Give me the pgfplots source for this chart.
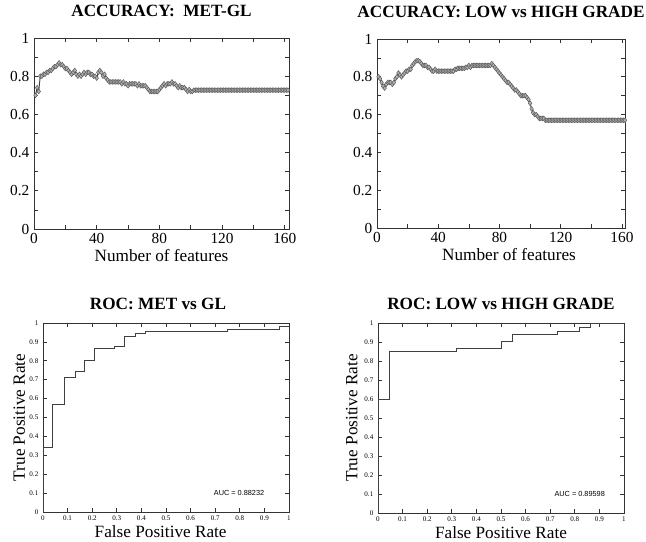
\documentclass[border=0pt]{standalone}
\usepackage{fontspec}
\setmainfont{Liberation Serif}
\newfontfamily\aucfont{Liberation Sans}
\usepackage{pgfplots}
\pgfplotsset{compat=1.18}

\pgfplotsset{
  matbox/.style={
    scale only axis, anchor=south west,
    axis line style={black!80, line width=0.6pt},
    tick align=inside, tick style={black!80, line width=0.5pt},
    major tick length=3pt, minor tick length=3pt,
    /pgf/number format/assume math mode=true,
    /pgf/number format/fixed,
    title style={at={(0.5,1)}, anchor=base, yshift=9.75pt,
      font=\fontsize{12.9}{14}\selectfont\bfseries},
    label style={font=\fontsize{12.9}{14}\selectfont},
    xlabel style={at={(0.5,0)}, anchor=base, yshift=-24.5pt},
  },
  acc/.style={matbox,
    xmin=0, ymin=0, ymax=1,
    xtick={0,40,80,120,160}, minor xtick={20,60,100,140},
    ytick={0,0.2,0.4,0.6,0.8,1}, minor ytick={0.1,0.3,0.5,0.7,0.9},
    tick label style={font=\fontsize{11.5}{12}\selectfont},
    xlabel={Number of features},
  },
  roc/.style={matbox,
    xmin=0, xmax=1, ymin=0, ymax=1,
    xtick={0,0.1,0.2,0.3,0.4,0.5,0.6,0.7,0.8,0.9,1},
    ytick={0,0.1,0.2,0.3,0.4,0.5,0.6,0.7,0.8,0.9,1},
    tick label style={font=\fontsize{5.3}{6}\selectfont},
    xticklabel style={yshift=1pt},
    title style={yshift=-5.75pt},
    xlabel style={yshift=5pt},
    ylabel style={at={(0,0.5)}, anchor=base, yshift=13.5pt},
    xlabel={False Positive Rate}, ylabel={True Positive Rate},
  },
  accline/.style={black!75, line width=0.7pt, mark=diamond*,
    mark size=1.8pt, mark options={fill=gray!60, draw=black!65, line width=0.35pt}},
  rocline/.style={black!75, line width=0.7pt},
}

\begin{document}
\begin{tikzpicture}
\useasboundingbox (0,0) rectangle (484.5pt,406.5pt);

% accuracy MET-GL
\begin{axis}[acc, at={(25.5pt,234.75pt)}, width=191.25pt, height=143.25pt,
  xmax=162.7, title={ACCURACY:\ \ MET-GL}]
\addplot[accline] coordinates {
(1,0.70)(2,0.74)(3,0.72)(4,0.80)(5,0.80)(6,0.81)(7,0.81)(8,0.82)(9,0.82)(10,0.83)
(11,0.83)(12,0.84)(13,0.85)(14,0.85)(15,0.86)(16,0.87)(17,0.86)(18,0.86)(19,0.85)(20,0.84)
(21,0.84)(22,0.83)(23,0.82)(24,0.81)(25,0.82)(26,0.83)(27,0.81)(28,0.80)(29,0.81)(30,0.80)
(31,0.81)(32,0.82)(33,0.81)(34,0.82)(35,0.82)(36,0.81)(37,0.81)(38,0.80)(39,0.80)(40,0.79)
(41,0.82)(42,0.83)(43,0.82)(44,0.80)(45,0.81)(46,0.79)(47,0.78)(48,0.77)(49,0.77)(50,0.77)
(51,0.77)(52,0.77)(53,0.77)(54,0.77)(55,0.77)(56,0.76)(57,0.77)(58,0.76)(59,0.76)(60,0.75)
(61,0.76)(62,0.76)(63,0.76)(64,0.76)(65,0.76)(66,0.75)(67,0.76)(68,0.75)(69,0.75)(70,0.75)
(71,0.75)(72,0.74)(73,0.73)(74,0.72)(75,0.72)(76,0.72)(77,0.72)(78,0.72)(79,0.72)(80,0.73)
(81,0.74)(82,0.75)(83,0.76)(84,0.75)(85,0.76)(86,0.76)(87,0.76)(88,0.77)(89,0.76)(90,0.76)
(91,0.75)(92,0.74)(93,0.75)(94,0.74)(95,0.74)(96,0.74)(97,0.73)(98,0.72)(99,0.73)(100,0.72)
(101,0.72)(102,0.727)(103,0.727)(104,0.727)(105,0.727)(106,0.727)(107,0.727)(108,0.727)(109,0.727)(110,0.727)
(111,0.727)(112,0.727)(113,0.727)(114,0.727)(115,0.727)(116,0.727)(117,0.727)(118,0.727)(119,0.727)(120,0.727)
(121,0.727)(122,0.727)(123,0.727)(124,0.727)(125,0.727)(126,0.727)(127,0.727)(128,0.727)(129,0.727)(130,0.727)
(131,0.727)(132,0.727)(133,0.727)(134,0.727)(135,0.727)(136,0.727)(137,0.727)(138,0.727)(139,0.727)(140,0.727)
(141,0.727)(142,0.727)(143,0.727)(144,0.727)(145,0.727)(146,0.727)(147,0.727)(148,0.727)(149,0.727)(150,0.727)
(151,0.727)(152,0.727)(153,0.727)(154,0.727)(155,0.727)(156,0.727)(157,0.727)(158,0.727)(159,0.727)(160,0.727)
(161,0.727)(162,0.727)
};
\end{axis}

% accuracy LOW vs HIGH
\begin{axis}[acc, at={(282.75pt,235.5pt)}, width=186pt, height=141.75pt,
  xmax=162, title={ACCURACY: LOW vs HIGH GRADE},
  xlabel style={xshift=6pt}]
\addplot[accline] coordinates {
(1,0.80)(2,0.79)(3,0.77)(4,0.75)(5,0.74)(6,0.76)(7,0.77)(8,0.77)(9,0.77)(10,0.76)
(11,0.77)(12,0.79)(13,0.80)(14,0.82)(15,0.81)(16,0.80)(17,0.81)(18,0.82)(19,0.83)(20,0.83)
(21,0.84)(22,0.84)(23,0.86)(24,0.87)(25,0.88)(26,0.885)(27,0.885)(28,0.88)(29,0.87)(30,0.86)
(31,0.86)(32,0.86)(33,0.85)(34,0.85)(35,0.84)(36,0.83)(37,0.83)(38,0.84)(39,0.83)(40,0.83)
(41,0.83)(42,0.83)(43,0.83)(44,0.83)(45,0.83)(46,0.83)(47,0.83)(48,0.83)(49,0.83)(50,0.83)
(51,0.84)(52,0.84)(53,0.845)(54,0.845)(55,0.845)(56,0.845)(57,0.845)(58,0.85)(59,0.85)(60,0.86)
(61,0.85)(62,0.86)(63,0.86)(64,0.86)(65,0.86)(66,0.86)(67,0.86)(68,0.86)(69,0.86)(70,0.86)
(71,0.86)(72,0.86)(73,0.86)(74,0.86)(75,0.87)(76,0.86)(77,0.85)(78,0.84)(79,0.83)(80,0.82)
(81,0.81)(82,0.80)(83,0.79)(84,0.78)(85,0.77)(86,0.77)(87,0.76)(88,0.75)(89,0.74)(90,0.73)
(91,0.73)(92,0.72)(93,0.71)(94,0.70)(95,0.70)(96,0.70)(97,0.70)(98,0.69)(99,0.68)(100,0.66)
(101,0.63)(102,0.61)(103,0.60)(104,0.60)(105,0.59)(106,0.58)(107,0.58)(108,0.58)(109,0.58)(110,0.57)
(111,0.57)(112,0.57)(113,0.57)(114,0.57)(115,0.57)(116,0.57)(117,0.57)(118,0.57)(119,0.57)(120,0.57)
(121,0.57)(122,0.57)(123,0.57)(124,0.57)(125,0.57)(126,0.57)(127,0.57)(128,0.57)(129,0.57)(130,0.57)
(131,0.57)(132,0.57)(133,0.57)(134,0.57)(135,0.57)(136,0.57)(137,0.57)(138,0.57)(139,0.57)(140,0.57)
(141,0.57)(142,0.57)(143,0.57)(144,0.57)(145,0.57)(146,0.57)(147,0.57)(148,0.57)(149,0.57)(150,0.57)
(151,0.57)(152,0.57)(153,0.57)(154,0.57)(155,0.57)(156,0.57)(157,0.57)(158,0.57)(159,0.57)(160,0.57)
(161,0.57)(162,0.57)
};
\end{axis}

% ROC MET vs GL
\begin{axis}[roc, at={(32.25pt,22.5pt)}, width=184.5pt, height=141.75pt,
  title={ROC: MET vs GL}, title style={xshift=-6pt}, xlabel style={xshift=-4pt}]
\addplot[rocline] coordinates {
(0,0)(0,0.34)(0.04,0.34)(0.04,0.57)(0.087,0.57)(0.087,0.714)(0.13,0.714)(0.13,0.746)
(0.167,0.746)(0.167,0.80)(0.21,0.80)(0.21,0.865)(0.29,0.865)(0.29,0.878)(0.33,0.878)
(0.33,0.928)(0.376,0.928)(0.376,0.944)(0.416,0.944)(0.416,0.957)(0.749,0.957)(0.749,0.968)
(0.96,0.968)(0.96,0.983)(1,0.983)
};
\node[font=\aucfont\fontsize{5.5}{6}\selectfont] at (axis cs:0.797,0.102) {AUC = 0.88232};
\end{axis}

% ROC LOW vs HIGH
\begin{axis}[roc, at={(283.5pt,21.75pt)}, width=184.5pt, height=142.5pt,
  title={ROC: LOW vs HIGH GRADE}, ylabel style={yshift=2pt}]
\addplot[rocline] coordinates {
(0,0)(0,0.60)(0.045,0.60)(0.045,0.85)(0.32,0.85)(0.32,0.864)(0.50,0.864)(0.50,0.904)
(0.546,0.904)(0.546,0.94)(0.73,0.94)(0.73,0.958)(0.82,0.958)(0.82,0.979)(0.864,0.979)
(0.864,1)(1,1)
};
\node[font=\aucfont\fontsize{5.5}{6}\selectfont] at (axis cs:0.82,0.10) {AUC = 0.89598};
\end{axis}
\end{tikzpicture}
\end{document}
